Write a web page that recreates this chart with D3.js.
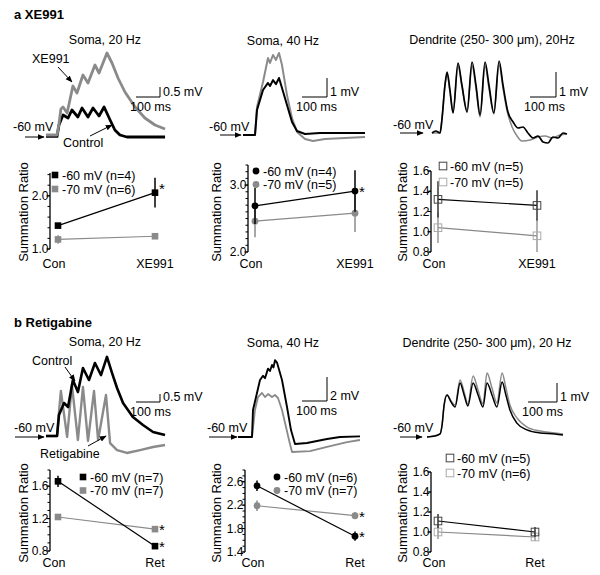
<!DOCTYPE html>
<html><head><meta charset="utf-8">
<script src="https://cdn.jsdelivr.net/npm/d3@7"></script>
<style>body{margin:0;background:#fff}svg text{font-family:"Liberation Sans",Arial,Helvetica,sans-serif;fill:#000}</style>
</head><body><svg id="c" width="600" height="575"></svg>
<script>
// ---------------- DATA ----------------
// Traces: [time (ms), membrane potential relative to -60 mV baseline (mV)]
const a1Xe991 = [[0,0.05],[46,0.05],[54,0.6],[62,1.35],[71,1.45],[88,1.15],[112,2.5],[129,2.15],[154,3.05],[175,2.65],[204,3.55],[221,3.15],[254,4.15],[275,3.65],[300,2.9],[329,2.2],[371,1.45],[412,0.9],[454,0.55],[496,0.35]];
const a1Control = [[0,-0.02],[46,-0.02],[54,0.55],[71,1.05],[92,0.9],[108,1.3],[133,0.95],[150,1.4],[175,0.95],[196,1.4],[221,1.0],[242,1.45],[267,0.8],[287,0.3],[308,0.05],[337,-0.05],[496,-0.05]];
const a2Xe991 = [[0,0],[48,0],[56,1.47],[80,2.79],[100,4.05],[108,3.79],[120,4.21],[132,3.95],[144,4.32],[156,3.68],[176,2.1],[196,0.89],[216,0.16],[248,-0.21],[280,-0.32],[328,-0.21],[408,-0.16],[488,-0.1]];
const a2Control = [[0,0],[48,0],[56,1.32],[80,2.37],[100,2.74],[108,2.58],[120,2.89],[132,2.68],[144,3.0],[156,2.47],[176,1.58],[196,0.68],[216,0.21],[248,0.05],[308,0.1],[408,0.1],[488,0.1]];
const a3Control = [[0,0],[15,0.08],[31,0],[38,0.52],[50,1.92],[58,2.44],[69,1.72],[81,0.8],[100,2.8],[115,1.92],[135,0.84],[154,2.84],[169,1.92],[185,0.72],[204,2.84],[219,1.92],[238,0.8],[258,2.88],[273,1.92],[292,0.84],[312,0.44],[331,0.2],[350,0.24],[369,0],[388,-0.2],[408,-0.12],[427,-0.36],[446,-0.4],[465,-0.16],[485,-0.2],[504,0],[519,-0.04]];
const a3Xe991 = [[0,0],[31,0],[38,0.52],[50,1.92],[58,2.36],[69,1.64],[81,0.84],[100,2.68],[115,1.88],[135,0.92],[154,2.68],[169,1.8],[185,0.64],[204,2.68],[219,1.8],[238,0.76],[258,2.72],[273,1.8],[288,0.92],[308,0.24],[327,-0.12],[346,-0.32],[377,-0.28],[408,-0.16],[435,-0.12],[462,-0.2],[492,-0.08],[519,-0.04]];
const b1Control = [[0,0],[46,0],[54,1.31],[75,2.06],[92,1.81],[112,3.5],[133,2.75],[154,4.25],[179,3.5],[204,4.56],[229,3.81],[254,4.94],[275,3.94],[296,3.0],[321,2.06],[362,1.19],[404,0.69],[446,0.25],[496,0.06]];
const b1Ret = [[0,0],[46,0],[54,1.5],[62,2.81],[88,-0.06],[108,3.19],[133,-0.25],[154,3.06],[175,-0.31],[200,2.81],[217,-0.25],[250,2.56],[267,-0.44],[296,-0.88],[337,-1.06],[392,-0.88],[446,-0.69],[496,-0.56]];
const b2Control = [[0,0],[56,0],[60,2.25],[88,4.75],[100,5.1],[108,4.9],[120,5.7],[128,5.5],[136,6.0],[142,5.8],[148,6.4],[156,6.2],[176,4.75],[196,2.5],[212,0.58],[228,-0.58],[276,-0.5],[356,-0.17],[408,0],[488,0.05]];
const b2Ret = [[0,0],[56,0],[68,2.25],[80,3.33],[96,3.67],[108,3.33],[120,3.58],[136,3.33],[148,3.5],[160,3.25],[176,2.25],[192,0.83],[204,-0.25],[216,-1.25],[288,-1.17],[356,-0.83],[436,-0.42],[488,-0.25]];
const b3Control = [[0,-0.05],[28,0],[45,0.11],[52,0.58],[59,1.63],[69,2.16],[83,1.79],[97,1.53],[114,2.79],[128,2.16],[141,1.58],[159,2.79],[176,2.16],[193,1.53],[207,2.79],[224,2.16],[241,1.53],[259,2.84],[272,2.16],[286,1.37],[310,0.68],[345,0.32],[390,0.16],[441,0.11],[469,0.05]];
const b3Ret = [[0,-0.05],[45,0.11],[52,0.58],[59,1.63],[69,2.16],[83,1.84],[97,1.63],[114,2.95],[128,2.32],[141,1.68],[159,3.16],[176,2.42],[193,1.68],[207,3.32],[224,2.53],[241,1.74],[259,3.32],[272,2.53],[286,1.63],[310,0.95],[345,0.47],[390,0.26],[441,0.16],[469,0.11]];

// Summation ratio summaries
const catsA = ["Con", "XE991"];
const catsB = ["Con", "Ret"];
const a1Mean60 = [1.44, 2.06], a1Err60 = [0.04, 0.28], a1Mean70 = [1.18, 1.24], a1Err70 = [0.08, 0.04];
const a2Mean60 = [2.69, 2.91], a2Err60 = [0.27, 0.31], a2Mean70 = [2.46, 2.58], a2Err70 = [0.24, 0.28];
const a3Mean60 = [1.32, 1.26], a3Err60 = [0.18, 0.15], a3Mean70 = [1.04, 0.96], a3Err70 = [0.15, 0.16];
const b1Mean60 = [1.66, 0.86], b1Err60 = [0.07, 0.02], b1Mean70 = [1.22, 1.07], b1Err70 = [0.03, 0.02];
const b2Mean60 = [2.53, 1.67], b2Err60 = [0.09, 0.08], b2Mean70 = [2.19, 2.02], b2Err70 = [0.09, 0.06];
const b3Mean60 = [1.11, 1.00], b3Err60 = [0.07, 0.05], b3Mean70 = [1.00, 0.95], b3Err70 = [0.07, 0.04];
const a1Ticks = [1.0, 2.0], a2Ticks = [2.0, 3.0], a3Ticks = [0.8, 1.0, 1.2, 1.4, 1.6];
const b1Ticks = [0.8, 1.2, 1.6], b2Ticks = [1.4, 1.8, 2.2, 2.6], b3Ticks = [0.8, 1.0, 1.2, 1.4, 1.6];
const a1Legend = ["-60 mV (n=4)", "-70 mV (n=6)"], a2Legend = ["-60 mV (n=4)", "-70 mV (n=5)"], a3Legend = ["-60 mV (n=5)", "-70 mV (n=5)"];
const b1Legend = ["-60 mV (n=7)", "-70 mV (n=7)"], b2Legend = ["-60 mV (n=6)", "-70 mV (n=7)"], b3Legend = ["-60 mV (n=5)", "-70 mV (n=6)"];

// ---------------- DRAWING ----------------
const svg = d3.select("#c");
const FS = 12.5;
const GRAY = "#8a8a8a";

svg.append("defs").append("marker").attr("id", "ah").attr("viewBox", "0 0 10 10")
  .attr("refX", 9).attr("refY", 5).attr("markerWidth", 7).attr("markerHeight", 7)
  .attr("markerUnits", "userSpaceOnUse").attr("orient", "auto")
  .append("path").attr("d", "M0,1L10,5L0,9Z").attr("fill", "#000");

function text(x, y, s, o = {}) {
  const t = svg.append("text").attr("x", x).attr("y", y).text(s)
    .attr("font-size", o.size || FS).attr("text-anchor", o.anchor || "start");
  if (o.bold) t.attr("font-weight", "bold");
  return t;
}
function arrow(x1, y1, x2, y2) {
  svg.append("line").attr("x1", x1).attr("y1", y1).attr("x2", x2).attr("y2", y2)
    .attr("stroke", "#000").attr("stroke-width", 1).attr("marker-end", "url(#ah)");
}

function tracePanel(p) {
  const x = d3.scaleLinear().domain([0, 100]).range([p.x0, p.x0 + p.pxPer100ms]);
  const y = d3.scaleLinear().domain([0, 1]).range([p.base, p.base - p.pxPerMv]);
  const curve = p.smooth ? d3.curveMonotoneX : d3.curveLinear;
  const line = d3.line().x(d => x(d[0])).y(d => y(d[1])).curve(curve);
  p.traces.forEach(tr => {
    svg.append("path").attr("d", line(tr.data)).attr("fill", "none")
      .attr("stroke", tr.color).attr("stroke-width", tr.w).attr("stroke-linejoin", "round");
  });
  const sb = p.bar;
  const w = x(100) - x(0), h = y(0) - y(sb.mv);
  svg.append("path").attr("d", `M${sb.x - w},${sb.y}H${sb.x}V${sb.y - h}`)
    .attr("fill", "none").attr("stroke", "#000").attr("stroke-width", 1);
  text(sb.x + 3, sb.y - 1, sb.label);
  text(sb.x - w - 6, sb.y + 14, "100 ms");
}

function scatterPanel(p) {
  const x = d3.scalePoint().domain(p.cats).range(p.xr);
  const y = d3.scaleLinear().domain(p.yd).range(p.yr);
  const g = svg.append("g");
  g.append("line").attr("x1", p.ax).attr("x2", p.ax).attr("y1", y(p.yd[0])).attr("y2", y(p.yd[1]))
    .attr("stroke", "#000").attr("stroke-width", 1.3);
  d3.range(Math.round(p.yd[0] * 10), Math.round(p.yd[1] * 10) + 1, p.minorStep).forEach(v => {
    g.append("line").attr("x1", p.ax).attr("x2", p.ax - 2.5).attr("y1", y(v / 10)).attr("y2", y(v / 10))
      .attr("stroke", "#000").attr("stroke-width", 1);
  });
  p.ticks.forEach(v => {
    g.append("line").attr("x1", p.ax).attr("x2", p.ax - 3.5).attr("y1", y(v)).attr("y2", y(v))
      .attr("stroke", "#000").attr("stroke-width", 1);
    text(p.ax - 1.5, y(v) + 4, v.toFixed(1), { anchor: "end", size: 12 });
  });
  svg.append("text").attr("transform", `translate(${p.lx},${p.ly}) rotate(-90)`)
    .attr("text-anchor", "middle").attr("font-size", 13).text("Summation Ratio");
  p.cats.forEach(c => text(x(c) + (c === "Con" ? -4 : 0), p.catY, c, { anchor: "middle", size: 12.5 }));
  p.series.forEach(s => {
    const pts = p.cats.map((c, i) => [x(c), s.mean[i], s.err[i]]);
    g.append("path").attr("d", d3.line().x(d => d[0]).y(d => y(d[1]))(pts))
      .attr("stroke", s.line).attr("stroke-width", 1.2).attr("fill", "none");
    pts.forEach(d => {
      g.append("line").attr("x1", d[0]).attr("x2", d[0]).attr("y1", y(d[1] - d[2])).attr("y2", y(d[1] + d[2]))
        .attr("stroke", s.errColor).attr("stroke-width", 1.5);
      drawMarker(g, p.marker, d[0], y(d[1]), s);
    });
  });
  p.legend.forEach((lab, i) => {
    const s = p.series[p.series.length - 1 - i];
    const yy = p.legY + i * p.legDy;
    drawMarker(g, p.marker, p.legX, yy, s, true);
    text(p.legX + 7, yy + 4.5, lab, { size: 12.5 });
  });
  (p.stars || []).forEach(st => text(x(p.cats[1]) + 4, y(st.v) + 6 + (st.dy || 0), "*", { size: 15 }));
}

function drawMarker(g, type, cx, cy, s) {
  if (type === "square") {
    const r = 3.3;
    g.append("rect").attr("x", cx - r).attr("y", cy - r).attr("width", 2 * r).attr("height", 2 * r).attr("fill", s.fill);
  } else if (type === "circle") {
    g.append("circle").attr("cx", cx).attr("cy", cy).attr("r", 3.4).attr("fill", s.fill);
  } else {
    const r = 3.8;
    g.append("rect").attr("x", cx - r).attr("y", cy - r).attr("width", 2 * r).attr("height", 2 * r)
      .attr("fill", "none").attr("stroke", s.fill).attr("stroke-width", 1);
  }
}

// ----- Panel a -----
text(14, 19, "a XE991", { bold: true, size: 13 });
text(105, 44, "Soma, 20 Hz", { anchor: "middle" });
text(283, 45, "Soma, 40 Hz", { anchor: "middle" });
text(492, 44, "Dendrite (250- 300 \u03bcm), 20Hz", { anchor: "middle" });

tracePanel({ x0: 46, pxPer100ms: 24, base: 136, pxPerMv: 20,
  traces: [{ data: a1Control, color: "#000", w: 2.8 }, { data: a1Xe991, color: GRAY, w: 2.8 }],
  bar: { x: 160, y: 97, mv: 0.5, label: "0.5 mV" } });
text(32, 63, "XE991"); arrow(58, 67, 72, 82);
text(13, 131, "-60 mV"); arrow(25, 137, 44, 137);
text(63, 147, "Control"); arrow(90, 136, 112, 125);

tracePanel({ x0: 243, pxPer100ms: 25, base: 135, pxPerMv: 19,
  traces: [{ data: a2Xe991, color: GRAY, w: 2 }, { data: a2Control, color: "#000", w: 2 }],
  bar: { x: 327, y: 97, mv: 1, label: "1 mV" } });
text(209, 131, "-60 mV"); arrow(220, 135, 241, 135);

tracePanel({ x0: 432, pxPer100ms: 26, base: 133, pxPerMv: 25, smooth: true,
  traces: [{ data: a3Xe991, color: GRAY, w: 1.5 }, { data: a3Control, color: "#000", w: 1.7 }],
  bar: { x: 556, y: 97, mv: 1, label: "1 mV" } });
text(393, 129, "-60 mV"); arrow(400, 133, 423, 133);

scatterPanel({ cats: catsA, xr: [58, 155], yd: [1.0, 2.43], yr: [249, 173], ax: 50, ticks: a1Ticks, minorStep: 2,
  lx: 28, ly: 212, catY: 268, marker: "square",
  series: [{ mean: a1Mean70, err: a1Err70, fill: GRAY, line: GRAY, errColor: GRAY },
           { mean: a1Mean60, err: a1Err60, fill: "#000", line: "#000", errColor: "#000" }],
  legend: a1Legend, legX: 55, legY: 175, legDy: 14, stars: [{ v: 2.06, dy: -5 }] });
scatterPanel({ cats: catsA, xr: [255, 355], yd: [2.0, 3.3], yr: [252, 165], ax: 248, ticks: a2Ticks, minorStep: 1,
  lx: 221, ly: 212, catY: 268, marker: "circle",
  series: [{ mean: a2Mean70, err: a2Err70, fill: GRAY, line: GRAY, errColor: GRAY },
           { mean: a2Mean60, err: a2Err60, fill: "#000", line: "#000", errColor: "#000" }],
  legend: a2Legend, legX: 256, legY: 171, legDy: 13.5, stars: [{ v: 2.91 }] });
scatterPanel({ cats: catsA, xr: [438, 537], yd: [0.8, 1.6], yr: [252, 171], ax: 431, ticks: a3Ticks, minorStep: 2,
  lx: 407, ly: 212, catY: 268, marker: "open",
  series: [{ mean: a3Mean70, err: a3Err70, fill: "#aaa", line: "#888", errColor: "#999" },
           { mean: a3Mean60, err: a3Err60, fill: "#444", line: "#000", errColor: "#333" }],
  legend: a3Legend, legX: 443, legY: 166, legDy: 16 });

// ----- Panel b -----
text(14, 327, "b Retigabine", { bold: true, size: 13 });
text(105, 346, "Soma, 20 Hz", { anchor: "middle" });
text(283, 347, "Soma, 40 Hz", { anchor: "middle" });
text(487, 347, "Dendrite (250- 300 \u03bcm), 20 Hz", { anchor: "middle" });

tracePanel({ x0: 46, pxPer100ms: 24, base: 436, pxPerMv: 16,
  traces: [{ data: b1Ret, color: GRAY, w: 2.4 }, { data: b1Control, color: "#000", w: 2.6 }],
  bar: { x: 160, y: 402, mv: 0.5, label: "0.5 mV" } });
text(32, 365, "Control"); arrow(65, 367, 75, 381);
text(14, 432, "-60 mV"); arrow(15, 437, 44, 437);
text(40, 458, "Retigabine"); arrow(88, 446, 106, 436);

tracePanel({ x0: 238, pxPer100ms: 25, base: 437, pxPerMv: 12,
  traces: [{ data: b2Ret, color: GRAY, w: 1.8 }, { data: b2Control, color: "#000", w: 1.9 }],
  bar: { x: 327, y: 401, mv: 2, label: "2 mV" } });
text(207, 432, "-60 mV"); arrow(209, 437, 237, 437);

tracePanel({ x0: 427, pxPer100ms: 29, base: 436, pxPerMv: 19, smooth: true,
  traces: [{ data: b3Ret, color: GRAY, w: 1.5 }, { data: b3Control, color: "#000", w: 1.5 }],
  bar: { x: 557, y: 402, mv: 1, label: "1 mV" } });
text(393, 432, "-60 mV"); arrow(400, 437, 422, 437);

scatterPanel({ cats: catsB, xr: [58, 155], yd: [0.8, 1.8], yr: [551, 470], ax: 50, ticks: b1Ticks, minorStep: 1,
  lx: 28, ly: 513, catY: 567, marker: "square",
  series: [{ mean: b1Mean70, err: b1Err70, fill: GRAY, line: GRAY, errColor: GRAY },
           { mean: b1Mean60, err: b1Err60, fill: "#000", line: "#000", errColor: "#000" }],
  legend: b1Legend, legX: 83, legY: 477, legDy: 13.5, stars: [{ v: 1.07 }, { v: 0.86 }] });
scatterPanel({ cats: catsB, xr: [257, 355], yd: [1.4, 2.8], yr: [552, 470], ax: 245, ticks: b2Ticks, minorStep: 1,
  lx: 221, ly: 513, catY: 567, marker: "circle",
  series: [{ mean: b2Mean70, err: b2Err70, fill: GRAY, line: GRAY, errColor: GRAY },
           { mean: b2Mean60, err: b2Err60, fill: "#000", line: "#000", errColor: "#000" }],
  legend: b2Legend, legX: 277, legY: 477, legDy: 13.5, stars: [{ v: 2.02 }, { v: 1.67 }] });
scatterPanel({ cats: catsB, xr: [438, 535], yd: [0.8, 1.6], yr: [552, 472], ax: 431, ticks: b3Ticks, minorStep: 2,
  lx: 407, ly: 513, catY: 567, marker: "open",
  series: [{ mean: b3Mean70, err: b3Err70, fill: "#aaa", line: "#888", errColor: "#999" },
           { mean: b3Mean60, err: b3Err60, fill: "#444", line: "#000", errColor: "#333" }],
  legend: b3Legend, legX: 450, legY: 458, legDy: 15 });
</script></body></html>
